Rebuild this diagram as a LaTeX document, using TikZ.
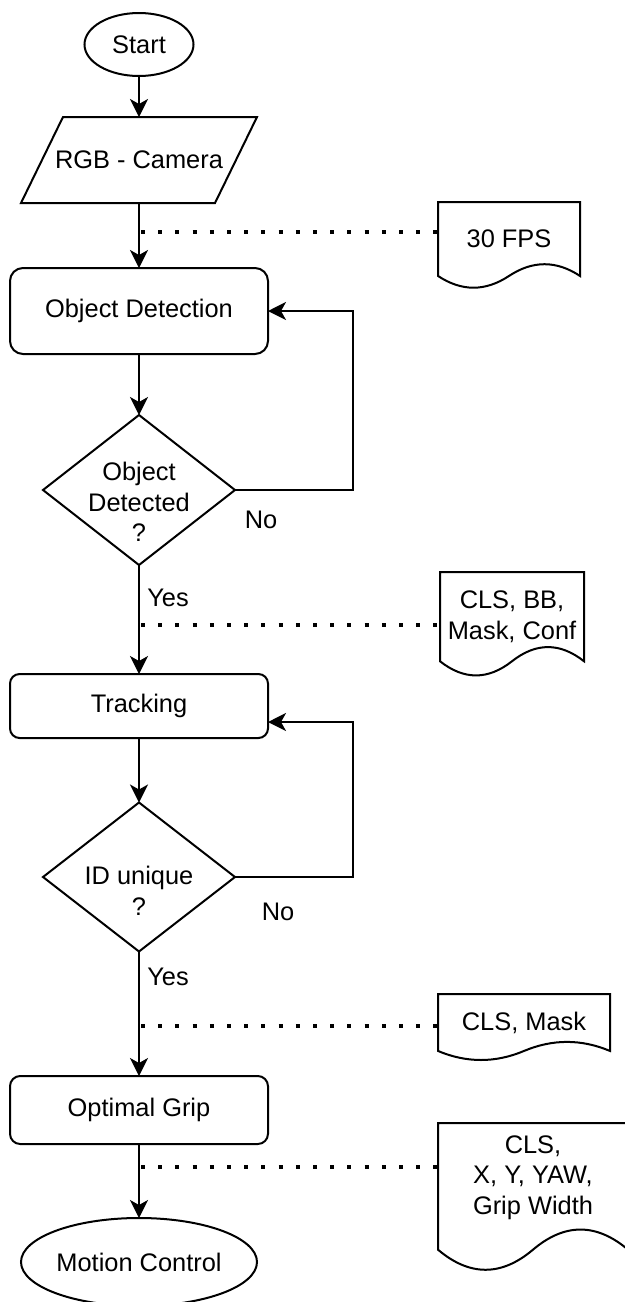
\documentclass[tikz,border=0pt]{standalone}
\usepackage{fontspec}
\setmainfont{Liberation Sans}
\usetikzlibrary{arrows.meta,shapes.geometric,calc}
\newcommand\docoutline[1]{%
  \draw[ln] let \p1=(#1.north west), \p2=(#1.south east),
    \n1={\x2-\x1}, \n2={\y2-\y1} in
    (\p1) -- (\x2,\y1) -- (\x2,{\y1+0.85*\n2})
    .. controls ({\x1+5/6*\n1},{\y1+0.67*\n2}) and ({\x1+2/3*\n1},{\y1+0.67*\n2}) .. ({\x1+0.5*\n1},{\y1+0.85*\n2})
    .. controls ({\x1+1/3*\n1},{\y1+1.03*\n2}) and ({\x1+1/6*\n1},{\y1+1.03*\n2}) .. (\x1,{\y1+0.85*\n2})
    -- cycle;}
\begin{document}
\begin{tikzpicture}[x=0.5pt,y=-0.5pt,
  font=\fontsize{12.7}{15.25}\selectfont,
  every node/.style={inner sep=0pt, outer sep=0pt},
  ln/.style={line width=1pt},
  term/.style={ellipse, draw, ln},
  proc/.style={rectangle, draw, ln, minimum width=129pt},
  holder/.style={rectangle, inner sep=0pt},
  ml/.style={align=center},
  arr/.style={ln, -{Stealth[length=9pt,width=9pt,inset=2.5pt]}},
  dots/.style={line width=2pt, dash pattern=on 2pt off 6.6pt},
  lbl/.style={}]
\useasboundingbox (0,0) rectangle (625,1302);

% main flow nodes
\node[term, minimum width=54.5pt, minimum height=31.5pt] (start) at (139,44.5) {Start};
\node[holder, minimum width=118pt, minimum height=43pt] (cam) at (139,160) {RGB - Camera};
\draw[ln] ($(cam.north west)+(42,0)$) -- (cam.north east) -- ($(cam.south east)+(-42,0)$) -- (cam.south west) -- cycle;
\node[proc, rounded corners=6.5pt, minimum height=43pt] (det) at (139,311) {Object Detection};
\node[holder, minimum width=96pt, minimum height=75pt,
      label={[ml,yshift=-6pt]center:{Object\\Detected\\?}}] (dec1) at (139,490) {};
\draw[ln] (dec1.north) -- (dec1.east) -- (dec1.south) -- (dec1.west) -- cycle;
\node[proc, rounded corners=4.8pt, minimum height=32pt] (track) at (139,706) {Tracking};
\node[holder, minimum width=96pt, minimum height=74.5pt,
      label={[ml,yshift=-7pt]center:{ID unique\\?}}] (dec2) at (139,877) {};
\draw[ln] (dec2.north) -- (dec2.east) -- (dec2.south) -- (dec2.west) -- cycle;
\node[proc, rounded corners=5.1pt, minimum height=34pt] (grip) at (139,1110) {Optimal Grip};
\node[term, minimum width=118pt, minimum height=44pt] (motion) at (139,1262) {Motion Control};

% data documents
\node[holder, anchor=north west, minimum width=71pt, minimum height=43.5pt,
      label={[ml,yshift=3.3pt]center:{30 FPS}}] (d1) at (438,202) {};
\docoutline{d1}
\node[holder, anchor=north west, minimum width=72pt, minimum height=52.5pt,
      label={[ml,yshift=3.9pt]center:{CLS, BB,\\Mask, Conf}}] (d2) at (440,572) {};
\docoutline{d2}
\node[holder, anchor=north west, minimum width=86pt, minimum height=33.5pt,
      label={[ml,yshift=2.5pt]center:{CLS, Mask}}] (d3) at (438,994) {};
\docoutline{d3}
\node[holder, anchor=north west, minimum width=95pt, minimum height=74.5pt,
      label={[ml,yshift=10pt]center:{CLS,\\X, Y, YAW,\\Grip Width}}] (d4) at (438,1123) {};
\docoutline{d4}

% connectors
\draw[arr] (start.south) -- (cam.north);
\draw[arr] (cam.south) -- (det.north);
\draw[arr] (det.south) -- (dec1.north);
\draw[arr] (dec1.east) -- ++(118,0) |- (det.east);
\draw[arr] (dec1.south) -- (track.north);
\draw[arr] (track.south) -- (dec2.north);
\draw[arr] (dec2.east) -- ++(118,0) |- ([yshift=-8pt]track.east);
\draw[arr] (dec2.south) -- (grip.north);
\draw[arr] (grip.south) -- (motion.north);

% branch labels
\node[lbl] (no1) at (261,520) {No};
\node[lbl] (yes1) at (168,598) {Yes};
\node[lbl] (no2) at (278,912) {No};
\node[lbl] (yes2) at (168,977) {Yes};

% dotted data links
\coordinate (c1) at (141,232);
\coordinate (c2) at (141,625);
\coordinate (c3) at (141,1026);
\coordinate (c4) at (141,1167);
\draw[dots] (c1) -- (c1 -| d1.west);
\draw[dots] (c2) -- (c2 -| d2.west);
\draw[dots] (c3) -- (c3 -| d3.west);
\draw[dots] (c4) -- (c4 -| d4.west);
\end{tikzpicture}
\end{document}
